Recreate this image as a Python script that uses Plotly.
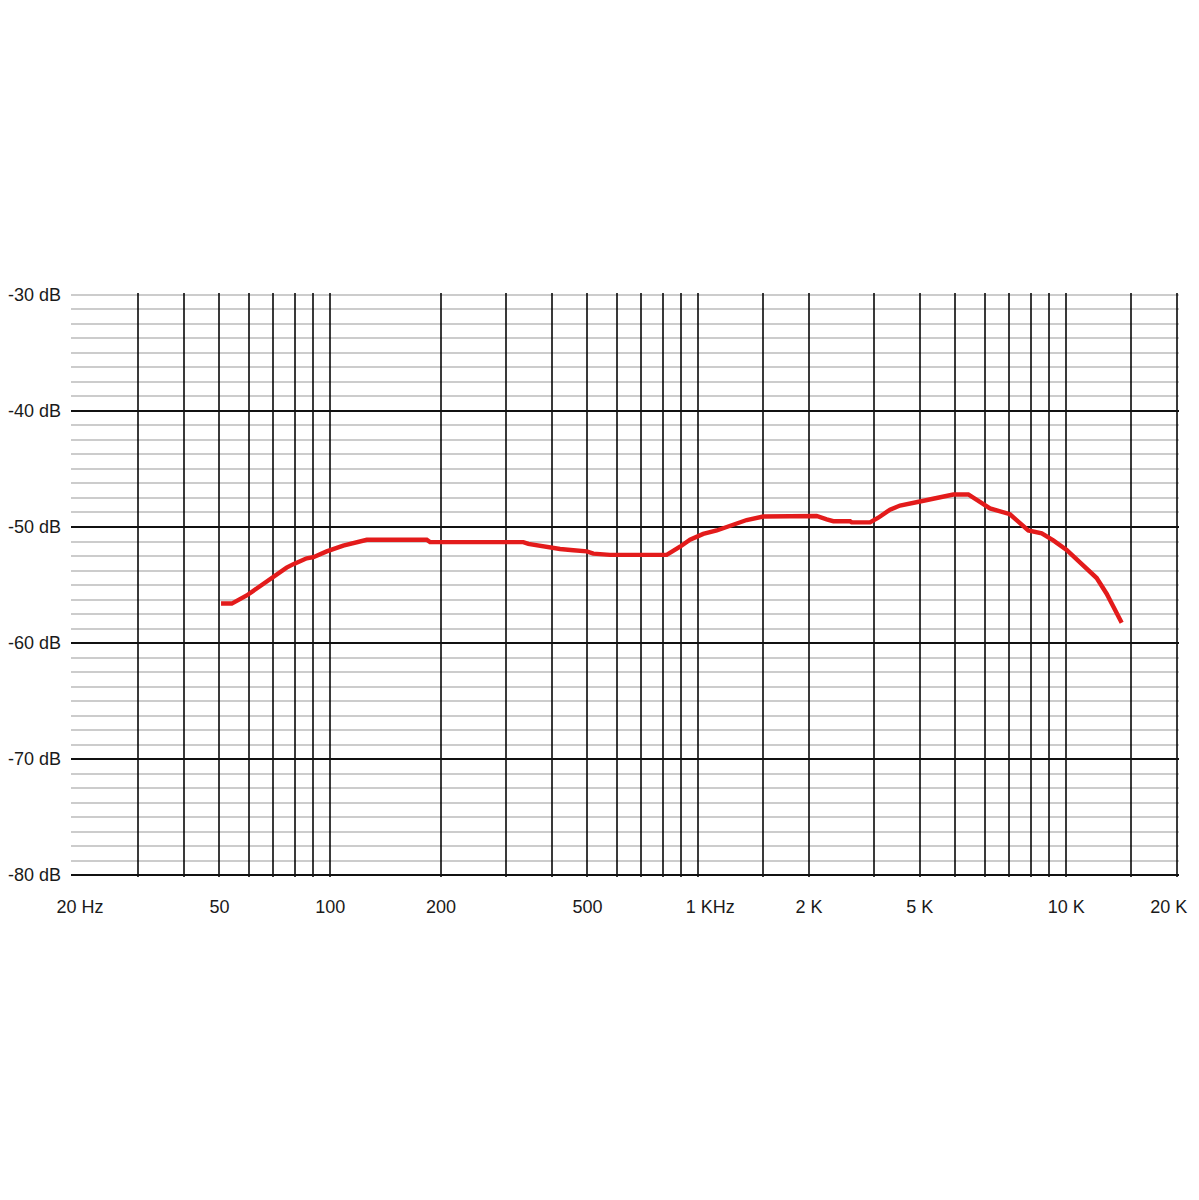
import math
import plotly.graph_objects as go

# Frequency response
freq_hz = [50.5, 54, 59.3, 64.4, 68.6, 76.1, 79.4, 86.3, 90, 97.8,
           108.5, 120.5, 125.7, 182.9, 186.7, 225.4, 334.8, 345.4, 367.6, 395.8,
           421.3, 457.8, 497.9, 518.9, 575.9, 821, 855.7, 892.4, 949.9, 1032,
           1123, 1220, 1354, 1502, 2098, 2234, 2329, 2586, 2612, 2930,
           3086, 3321, 3535, 4004, 4353, 4734, 4934, 5420, 5830, 6207,
           7033, 7486, 7887, 8579, 9222, 10026, 10900, 12100, 12880, 13420,
           14150]
level_db = [-56.6, -56.6, -55.9, -55.1, -54.5, -53.5, -53.2, -52.7, -52.6, -52.1,
            -51.6, -51.3, -51.1, -51.1, -51.3, -51.3, -51.3, -51.45, -51.6, -51.7,
            -51.9, -52.0, -52.1, -52.3, -52.4, -52.4, -52.1, -51.7, -51.1, -50.6,
            -50.3, -49.9, -49.4, -49.1, -49.05, -49.35, -49.5, -49.5, -49.6, -49.6,
            -49.2, -48.5, -48.15, -47.8, -47.55, -47.3, -47.2, -47.2, -47.8, -48.4,
            -48.9, -49.65, -50.3, -50.55, -51.15, -51.97, -53.0, -54.4, -55.75, -56.8,
            -58.25]

# Axis labels as they appear on the chart (label positions in Hz)
x_label_pos = [20.9, 50, 100, 200, 500, 1078, 2000, 4000, 10000, 19000]
x_label_text = ["20 Hz", "50", "100", "200", "500", "1 KHz", "2 K", "5 K", "10 K", "20 K"]
x_grid_freqs = [30, 40, 50, 60, 70, 80, 90, 100,
                200, 300, 400, 500, 600, 700, 800, 900, 1000,
                1500, 2000, 3000, 4000, 5000, 6000, 7000, 8000, 9000, 10000,
                15000, 20000]
y_major = [-80, -70, -60, -50, -40]
y_major_text = ["-80 dB", "-70 dB", "-60 dB", "-50 dB", "-40 dB"]
y_top = [-30]
y_top_text = ["-30 dB"]

# small padding so the edge grid lines (20 kHz, -80 dB, -30 dB) are drawn
x_pad = 0.0055
y_pad = 0.17
x_range = [math.log10(20) - x_pad, math.log10(20000) + x_pad]
y_range = [-80 - y_pad, -30 + y_pad]

font = dict(family="Liberation Sans, Arial, sans-serif", size=18, color="#1a1a1a")

fig = go.Figure()
fig.add_trace(go.Scatter(x=freq_hz, y=level_db, mode="lines",
                         line=dict(color="#e31b1b", width=4.4),
                         showlegend=False, hoverinfo="skip"))
fig.add_trace(go.Scatter(x=[freq_hz[0]], y=[level_db[0]], yaxis="y2",
                         mode="markers", marker=dict(opacity=0),
                         showlegend=False, hoverinfo="skip"))

# page body has an 8px default margin, so the figure is sized/margined for it
fig.update_layout(
    width=1191, height=1184,
    margin=dict(l=63, r=20, t=285, b=315),
    paper_bgcolor="white", plot_bgcolor="white",
    font=font,
    xaxis=dict(type="log", range=x_range, automargin=False,
               tickvals=x_label_pos, ticktext=x_label_text,
               showgrid=False, zeroline=False, showline=False,
               ticks="", ticklabelstandoff=17, tickfont=font,
               ticklabeloverflow="allow",
               minor=dict(tickvals=x_grid_freqs, showgrid=True,
                          gridcolor="#3a3a3a", gridwidth=1.9, ticks="")),
    yaxis=dict(range=y_range, automargin=False,
               tickvals=y_major, ticktext=y_major_text,
               showgrid=True, gridcolor="#111111", gridwidth=2.2,
               zeroline=False, showline=False, ticks="",
               ticklabelstandoff=9, tickfont=font, ticklabeloverflow="allow",
               minor=dict(dtick=1.25, tick0=-80, showgrid=True,
                          gridcolor="rgba(0,0,0,0.2)", gridwidth=1.6, ticks="")),
    yaxis2=dict(range=y_range, overlaying="y", side="left", automargin=False,
                tickvals=y_top, ticktext=y_top_text, showgrid=False,
                zeroline=False, showline=False, ticks="",
                ticklabelstandoff=9, tickfont=font, ticklabeloverflow="allow"),
)

fig.write_html("out.html")
